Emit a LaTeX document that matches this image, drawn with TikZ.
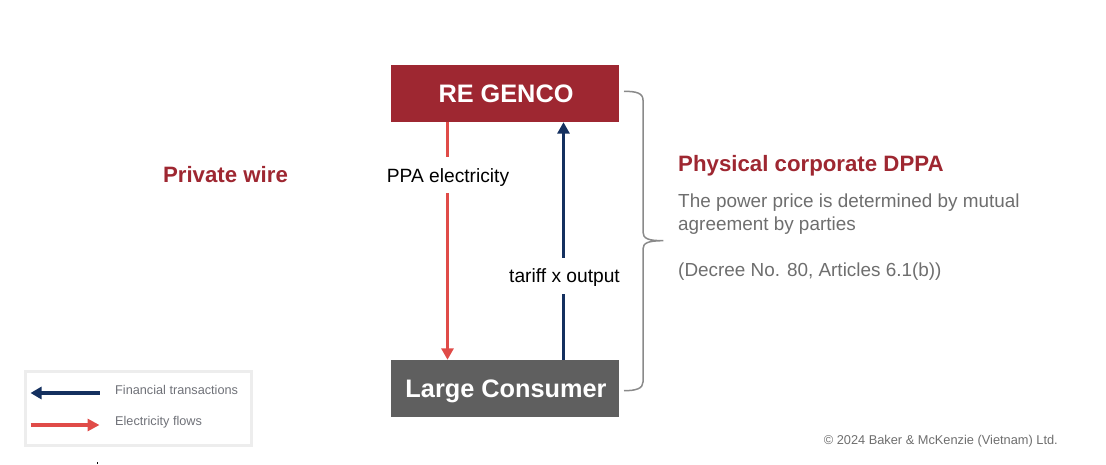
\documentclass[tikz,border=0pt]{standalone}
\usepackage{fontspec}
\setmainfont{Liberation Sans}
\usetikzlibrary{arrows.meta}
\definecolor{brandred}{HTML}{9E2731}
\definecolor{boxgrey}{HTML}{5F5F5F}
\definecolor{flowred}{HTML}{E04B48}
\definecolor{finblue}{HTML}{14305F}
\definecolor{bodygrey}{HTML}{6E6E6E}
\definecolor{legtext}{HTML}{6F7178}
\definecolor{legframe}{HTML}{EDEDED}
\definecolor{bracegrey}{HTML}{8A8A8A}
\newcommand{\fs}[1]{\fontsize{#1}{#1}\selectfont}
\tikzset{
  x=1pt,y=-1pt,
  mainbox/.style={minimum width=228.6pt,minimum height=57pt,inner sep=0pt,text=white,text height=18pt,text depth=0pt,font=\fs{25.3}\bfseries},
  flowarrow/.style={draw=flowred,line width=3.5pt,-{Triangle[length=11.5pt,width=12pt]}},
  finarrow/.style={draw=finblue,line width=3.5pt,-{Triangle[length=11.5pt,width=12pt]}},
  flowlabel/.style={fill=white,inner xsep=2pt,inner ysep=0pt,minimum height=36pt,text height=14pt,text depth=0pt,text=black,font=\fs{19.2}},
  legendtxt/.style={inner sep=0pt,anchor=west,text=legtext,font=\fs{12.7}},
  legarrowfin/.style={draw=finblue,line width=3.4pt,-{Triangle[length=11pt,width=12pt]}},
  legarrowel/.style={draw=flowred,line width=3.4pt,-{Triangle[length=12pt,width=12pt]}},
  bodytxt/.style={inner sep=0pt,anchor=west,text=bodygrey,font=\fs{18.9}},
  headtxt/.style={inner sep=0pt,anchor=west,text=brandred,font=\fs{22.25}\bfseries}
}
\begin{document}
\begin{tikzpicture}
\useasboundingbox (0,0) rectangle (1106,464);
\node[mainbox,fill=brandred] (genco) at (505,93.5) {\hspace*{2pt}RE GENCO};
\node[mainbox,fill=boxgrey] (consumer) at (505,388.5) {\hspace*{2pt}Large Consumer};
% connector anchors
\coordinate (rx) at (447.5,240);
\coordinate (bx) at (563.5,240);
\draw[flowarrow] (genco.south -| rx) -- (consumer.north -| rx);
\draw[finarrow] (consumer.north -| bx) -- (genco.south -| bx);
\node[flowlabel] (ppa) at (448,175) {PPA electricity};
\node[flowlabel] (tariff) at (564.5,275.7) {tariff x output};
% brace
\coordinate (bracetop) at (624,91.3);
\coordinate (bracetip) at (663.3,240.7);
\coordinate (bracebot) at (624,390.7);
\draw[bracegrey,line width=1.5pt] (bracetop) .. controls (636,91.3) and (643,93) .. (643,100)
  -- (643,232) .. controls (643,238.5) and (648,240.7) .. (bracetip)
  .. controls (648,240.7) and (643,243) .. (643,249)
  -- (643,382) .. controls (643,388.5) and (636,390.7) .. (bracebot);
% right text
\node[headtxt] (phys) at (678,166) {Physical corporate DPPA};
\node[bodytxt] (b1) at (678,203) {The power price is determined by mutual};
\node[bodytxt] (b2) at (678,226) {agreement by parties};
\node[bodytxt] (b3) at (678,271.5) {(Decree No. 80, Articles 6.1(b))};
\node[headtxt,anchor=center] (pw) at (225.5,175) {Private wire};
% legend
\node[draw=legframe,line width=3pt,minimum width=226pt,minimum height=74pt,inner sep=0pt] (legend) at (138.5,408.5) {};
\coordinate (fa) at (99.5,393);
\coordinate (fb) at (30.5,393);
\coordinate (ea) at (30.5,425);
\coordinate (eb) at (99.5,425);
\draw[legarrowfin] (fa) -- (fb);
\draw[legarrowel] (ea) -- (eb);
\node[legendtxt] (lf) at (115,390) {Financial transactions};
\node[legendtxt] (le) at (115,422) {Electricity flows};
\node[inner sep=0pt,anchor=east,text=bodygrey,font=\fs{12.8}] (copy) at (1058,441) {© 2024 Baker \& McKenzie (Vietnam) Ltd.};
\fill[black] (97,461.5) rectangle (98,464);
\end{tikzpicture}
\end{document}
